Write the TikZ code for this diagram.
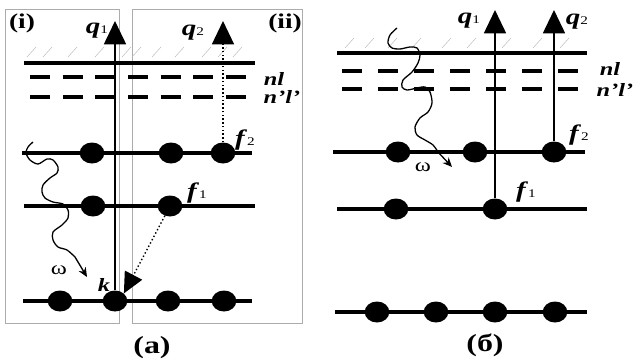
\documentclass[tikz,border=0pt]{standalone}
\usepackage{fontspec}
\setmainfont[FakeStretch=1.3]{Liberation Serif}
\usetikzlibrary{arrows.meta,shapes.geometric}
\newcommand{\bi}[1]{\textbf{\textit{#1}}}
\newcommand{\ix}[2]{\bi{#1}{\fontsize{10}{10}\selectfont #2}}
\tikzset{
  lvl/.style={line width=2.6pt},
  dsh/.style={line width=2.6pt,dash pattern=on 17pt off #1},
  dsh/.default=11pt,
  hatch/.style={draw=gray!55,line width=0.4pt},
  panel/.style={draw=gray!65,line width=0.6pt},
  elec/.style={ellipse,fill=black,minimum width=0.74cm,minimum height=0.63cm,inner sep=0pt},
  qar/.style={-{Triangle[length=0.7cm,width=0.66cm]},line width=1.5pt},
  wv/.style={-{Stealth[length=8pt,width=7pt]},line width=1.1pt},
  lab/.style={inner sep=0pt,font=\fontsize{19}{22}\selectfont},
  lvn/.style={inner sep=0pt,font=\fontsize{16}{19}\selectfont},
  ptag/.style={inner sep=0pt,font=\fontsize{18}{21}\selectfont\bfseries},
  pname/.style={inner sep=0pt,font=\fontsize{21}{24}\selectfont\bfseries},
}
\begin{document}
\begin{tikzpicture}[x=0.03cm,y=-0.03cm]
\useasboundingbox (0,0) rectangle (635,362);
% (a): two frames
\draw[panel] (5,9) rectangle (119,323);
\draw[panel] (132,9) rectangle (302,323);
\foreach \x in {27,43,68,95,122,132,152,175,202,218,233}
  \draw[hatch] (\x,57) -- ++(9,-10);
\draw[lvl] (24,63) -- (255,63);
\draw[dsh=10.9pt] (30,77) -- (247,77);
\draw[dsh=10.9pt] (30,97) -- (247,97);
\draw[lvl] (22,153) -- (252,153);
\draw[lvl] (24,206) -- (255,206);
\draw[lvl] (23,301) -- (252,301);
\node[elec] (ab1) at (60,301) {};
\node[elec] (k) at (115,301) {};
\node[elec] (ab3) at (168,301) {};
\node[elec] (ab4) at (224,301) {};
\node[elec] (af1) at (93,206) {};
\node[elec] (f1a) at (170,206) {};
\node[elec] (af2) at (92,153) {};
\node[elec] (af2b) at (171,153) {};
\node[elec] (f2a) at (223,153) {};
\coordinate (q1a) at (115,21);
\coordinate (q2a) at (223,21);
\draw[qar] (k) -- (q1a);
\draw[qar,line width=1.2pt,dotted] (f2a) -- (q2a);
\draw[qar,line width=1.2pt,dotted,-{Triangle[length=0.62cm,width=0.58cm]}] (f1a) -- (k.north east);
\draw[wv] plot[smooth] coordinates {(33,142) (28,147) (26,153) (30,160) (38,164) (47,159) (53,160) (58,167) (57,173) (50,178) (43,185) (42,192) (45,198) (53,202) (63,204) (68,210) (68,218) (62,225) (53,232) (53,240) (58,247) (67,250) (75,257)} -- (87,277);
\node[ptag] (ti) at (22,23) {(i)};
\node[ptag] (tii) at (285,23) {(ii)};
\node[lab] (lq1a) at (97,31) {\ix{q}{1}};
\node[lab] (lq2a) at (193,33) {\ix{q}{2}};
\node[lvn] (lnla) at (274,79) {\bi{nl}};
\node[lvn] (lnpa) at (282,97) {\bi{n’l’}};
\node[lab] (lf2a) at (245,140) {\ix{f}{2}};
\node[lab] (lf1a) at (197,193) {\ix{f}{1}};
\node[lvn] (lk) at (104,285) {\bi{k}};
\node[lvn] (lwa) at (59,270) {ω};
\node[pname] (na) at (152,348) {(a)};
% (б)
\foreach \x in {345,365,388,412,442,467,502,533,560}
  \draw[hatch] (\x,48) -- ++(9,-10);
\draw[lvl] (337,53) -- (587,53);
\draw[dsh=13.7pt] (342,71) -- (578,71);
\draw[dsh=13.7pt] (342,89) -- (578,89);
\draw[lvl] (333,152) -- (585,152);
\draw[lvl] (337,209) -- (587,209);
\draw[lvl] (335,312) -- (587,312);
\node[elec] (bf2a) at (398,152) {};
\node[elec] (bf2b) at (475,152) {};
\node[elec] (f2b) at (554,152) {};
\node[elec] (bf1) at (396,209) {};
\node[elec] (f1b) at (495,209) {};
\node[elec] (bb1) at (377,312) {};
\node[elec] (bb2) at (436,312) {};
\node[elec] (bb3) at (495,312) {};
\node[elec] (bb4) at (555,312) {};
\coordinate (q1b) at (495,10);
\coordinate (q2b) at (554,10);
\draw[qar] (f1b) -- (q1b);
\draw[qar] (f2b) -- (q2b);
\draw[wv] plot[smooth] coordinates {(397,28) (390,35) (388,43) (392,48) (400,49) (410,47) (417,48) (420,55) (418,63) (412,72) (403,80) (402,87) (407,90) (417,88) (425,87) (430,92) (432,103) (428,112) (420,118) (415,127) (417,135) (425,140) (433,145) (438,152)} -- (452,167);
\node[lab] (lq1b) at (469,21) {\ix{q}{1}};
\node[lab] (lq2b) at (577,22) {\ix{q}{2}};
\node[lvn] (lnlb) at (610,69) {\bi{nl}};
\node[lvn] (lnpb) at (615,90) {\bi{n’l’}};
\node[lab] (lf2b) at (579,135) {\ix{f}{2}};
\node[lab] (lf1b) at (526,192) {\ix{f}{1}};
\node[lvn] (lwb) at (423,167) {ω};
\node[pname] (nb) at (485,345) {(б)};
\end{tikzpicture}
\end{document}
